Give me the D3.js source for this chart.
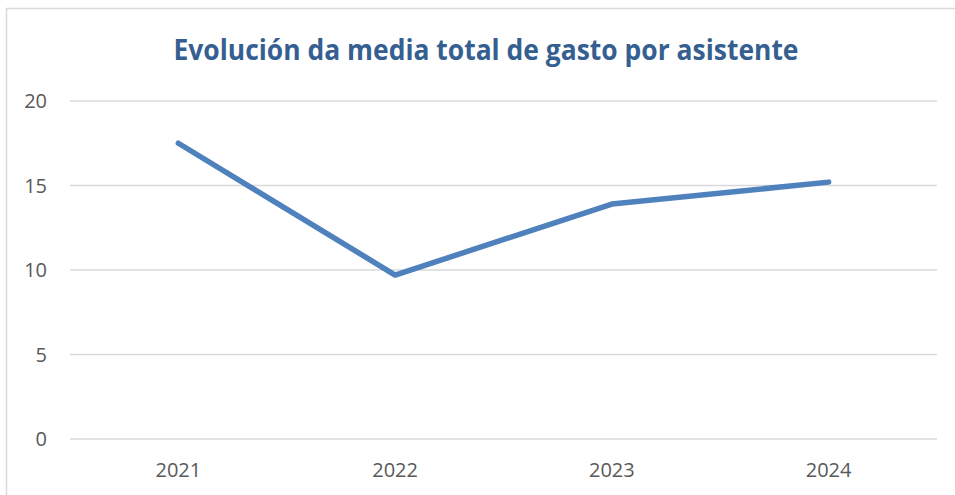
<!DOCTYPE html>
<html>
<head>
<meta charset="utf-8">
<script src="https://cdn.jsdelivr.net/npm/d3@7"></script>
<style>
  body { margin: 0; background: #fff; }
  text { font-family: "Open Sans", sans-serif; }
</style>
</head>
<body>
<div id="chart"></div>
<script>
var years = ["2021", "2022", "2023", "2024"];
var gasto = [17.5, 9.7, 13.9, 15.2];
var yTicks = [0, 5, 10, 15, 20];
var title = "Evolución da media total de gasto por asistente";

var width = 955,
  height = 495;

var svg = d3.select("#chart")
  .append("svg")
  .attr("width", width)
  .attr("height", height);

// chart frame (only top and left visible in the crop)
svg.append("rect")
  .attr("x", 6.5)
  .attr("y", 8.5)
  .attr("width", 1000)
  .attr("height", 600)
  .attr("fill", "none")
  .attr("stroke", "#d9d9d9")
  .attr("stroke-width", 1.5);

var plotLeft = 70, plotRight = 937, plotTop = 101, plotBottom = 439;

var x = d3.scalePoint()
  .domain(years)
  .range([plotLeft, plotRight])
  .padding(0.5);

var y = d3.scaleLinear()
  .domain([0, 20])
  .range([plotBottom, plotTop]);

// gridlines
svg.append("g")
  .selectAll("line")
  .data(yTicks)
  .enter()
  .append("line")
  .attr("x1", plotLeft)
  .attr("x2", plotRight)
  .attr("y1", function(d) { return y(d); })
  .attr("y2", function(d) { return y(d); })
  .attr("stroke", "#d9d9d9")
  .attr("stroke-width", 1.5);

// y labels
svg.append("g")
  .selectAll("text")
  .data(yTicks)
  .enter()
  .append("text")
  .attr("x", 47)
  .attr("y", function(d) { return y(d); })
  .attr("dy", "0.35em")
  .attr("text-anchor", "end")
  .attr("fill", "#595959")
  .style("font-size", "20px")
  .text(function(d) { return d; });

// x labels
svg.append("g")
  .selectAll("text")
  .data(years)
  .enter()
  .append("text")
  .attr("x", function(d) { return x(d); })
  .attr("y", 477)
  .attr("text-anchor", "middle")
  .attr("fill", "#595959")
  .style("font-size", "20px")
  .text(function(d) { return d; });

var line = d3.line()
  .x(function(d, i) { return x(years[i]); })
  .y(function(d) { return y(d); });

svg.append("path")
  .datum(gasto)
  .attr("d", line)
  .attr("fill", "none")
  .attr("stroke", "#4f81bd")
  .attr("stroke-width", 5.5)
  .attr("stroke-linecap", "round")
  .attr("stroke-linejoin", "round");

var t = svg.append("text")
  .attr("x", 486)
  .attr("y", 60)
  .attr("text-anchor", "middle")
  .attr("fill", "#365f91")
  .style("font-size", "28px")
  .style("font-weight", "bold")
  .text(title);

// squeeze to the narrow width of the original title
var w = t.node().getComputedTextLength();
if (w > 625) t.attr("textLength", 625).attr("lengthAdjust", "spacingAndGlyphs");
</script>
</body>
</html>
